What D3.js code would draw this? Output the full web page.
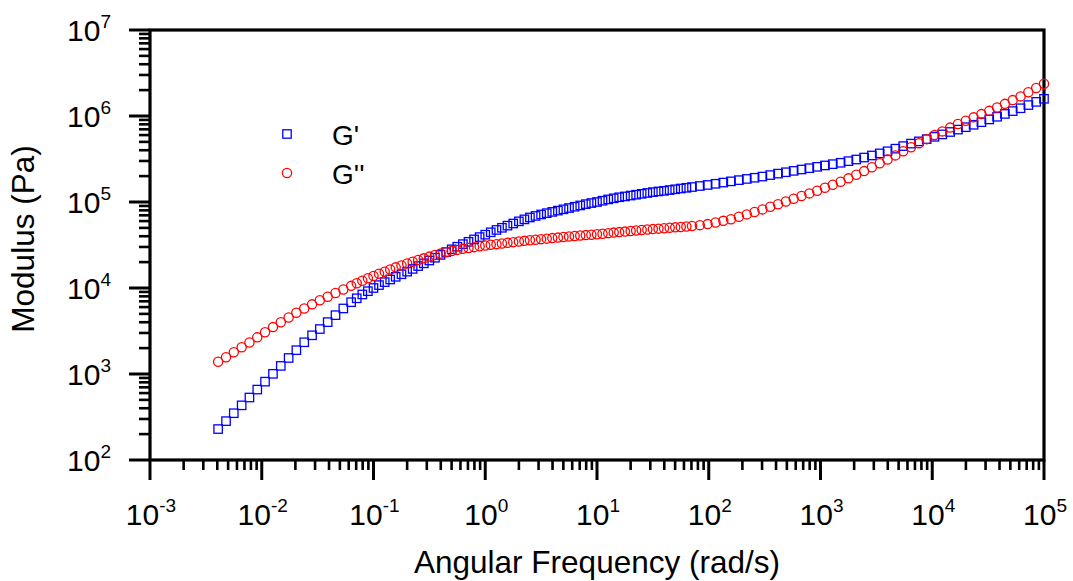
<!DOCTYPE html>
<html>
<head>
<meta charset="utf-8">
<script src="https://cdn.jsdelivr.net/npm/d3@7"></script>
<style>
  html, body { margin: 0; padding: 0; background: #fff; }
  svg { display: block; }
  text { font-family: "Liberation Sans", Arial, sans-serif; fill: #000; }
</style>
</head>
<body>
<svg id="chart" width="1073" height="581"></svg>
<script>
// ---------------- data ----------------
const frequency = [0.00407, 0.00479, 0.00562, 0.00661, 0.00776, 0.00912, 0.0107, 0.0126, 0.0148, 0.0174, 0.0204, 0.0240, 0.0282, 0.0331, 0.0389, 0.0457, 0.0537,
  0.0631, 0.0708, 0.0794, 0.0891, 0.100, 0.112, 0.126, 0.141, 0.158, 0.178, 0.200, 0.224, 0.251, 0.282, 0.316, 0.355, 0.398, 0.447, 0.501, 0.562,
  0.631, 0.708, 0.794, 0.891, 1.00, 1.12, 1.26, 1.41, 1.58, 1.78, 2.00, 2.24, 2.51, 2.82, 3.16, 3.55, 3.98, 4.47, 5.01, 5.62,
  6.31, 7.08, 7.94, 8.91, 10.0, 11.2, 12.6, 14.1, 15.8, 17.8, 20.0, 22.4, 25.1, 28.2, 31.6, 35.5, 39.8, 44.7, 50.1, 56.2, 63.1, 70.8,
  83.2, 97.7, 115, 135, 158, 186, 219, 257, 302, 355, 417, 490, 575, 676, 794, 933, 1096, 1288, 1514, 1778, 2089, 2455, 2884, 3388,
  3981, 4677, 5495, 6457, 7586, 8913, 10470, 12300, 14450, 16980, 19950, 23440, 27540, 32360, 38020, 44670, 52480, 61660, 72440, 85110, 100000];

const storageModulus = [229, 283, 350, 432, 533, 659, 815, 1005, 1242, 1535, 1892, 2339, 2818, 3334, 4009, 4831, 5781,
  6839, 7586, 8414, 9183, 10000, 10810, 11700, 12560, 13490, 14450, 15490, 16670, 17990, 19360, 20890, 22490, 24270, 26180, 28180, 30200,
  32360, 34440, 36730, 39080, 41690, 44460, 47320, 50120, 53090, 56230, 59570, 62810, 66070, 68870, 71610, 74130, 76740, 79430, 82220, 85110,
  88100, 91200, 94410, 97270, 100000, 103500, 107200, 110400, 113500, 116100, 118900, 121600, 124500, 127400, 130300, 132700, 134900, 137700, 140600, 143500, 146200, 149300,
  153500, 157800, 162900, 168300, 173800, 179500, 185400, 191400, 197700, 205600, 213800, 221800, 230100, 238800, 247200, 256400, 266100, 275400, 285800, 298500, 311900, 328900, 347500, 367300,
  389000, 416900, 446700, 477500, 507000, 538300, 572800, 610900, 651600, 695000, 741300, 790700, 847200, 912000, 979500, 1057000, 1140000, 1230000, 1340000, 1459000, 1585000];

const lossModulus = [1390, 1567, 1791, 2046, 2328, 2667, 3062, 3508, 3990, 4539, 5152, 5781, 6457, 7211, 7925, 8730, 9616,
  10590, 11350, 12160, 12970, 13800, 14620, 15490, 16410, 17380, 18320, 19280, 20180, 21130, 22130, 23170, 24150, 25120, 26000, 26920, 27730,
  28510, 29170, 29850, 30550, 31260, 31840, 32360, 32960, 33500, 34120, 34670, 35320, 35890, 36390, 36980, 37500, 38020, 38550, 39170, 39720,
  40270, 40740, 41210, 41690, 42170, 42760, 43450, 44060, 44670, 45290, 46030, 46670, 47320, 47860, 48420, 48980, 49550, 50120, 50700, 51290, 51880, 52600,
  53830, 55340, 57810, 60390, 63100, 67300, 71780, 76560, 82040, 87900, 94190, 101200, 108900, 117200, 125900, 134900, 146200, 158500, 171800, 188400, 207500, 228600, 253500, 281800,
  312600, 348300, 389000, 433500, 483100, 538300, 599800, 662200, 732800, 807200, 881000, 963900, 1052000, 1148000, 1256000, 1384000, 1531000, 1690000, 1892000, 2118000, 2371000];

const xTickExponents = ["-3", "-2", "-1", "0", "1", "2", "3", "4", "5"];
const yTickExponents = ["2", "3", "4", "5", "6", "7"];
const seriesNames = ["G'", "G''"];
const xTitle = "Angular Frequency (rad/s)";
const yTitle = "Modulus (Pa)";

// ---------------- layout ----------------
const svg = d3.select("#chart");
const L = 150, R = 1044, T = 30, B = 460;
const x = d3.scaleLog().domain([1e-3, 1e5]).range([L, R]);
const y = d3.scaleLog().domain([1e2, 1e7]).range([B, T]);

const isMajor = v => Math.abs(Math.log10(v) - Math.round(Math.log10(v))) < 1e-9;
const xMinor = x.ticks().filter(v => !isMajor(v));
const yMinor = y.ticks().filter(v => !isMajor(v));

// ticks
const g = svg.append("g");
g.selectAll(".xminor").data(xMinor).join("line")
  .attr("x1", d => x(d)).attr("x2", d => x(d)).attr("y1", B).attr("y2", B + 10)
  .attr("stroke", "#000").attr("stroke-width", 2.6);
g.selectAll(".xmajor").data(xTickExponents).join("line")
  .attr("x1", d => x(Math.pow(10, +d))).attr("x2", d => x(Math.pow(10, +d)))
  .attr("y1", B).attr("y2", B + 20).attr("stroke", "#000").attr("stroke-width", 3);
g.selectAll(".yminor").data(yMinor).join("line")
  .attr("y1", d => y(d)).attr("y2", d => y(d)).attr("x1", L).attr("x2", L - 11)
  .attr("stroke", "#000").attr("stroke-width", 2.6);
g.selectAll(".ymajor").data(yTickExponents).join("line")
  .attr("y1", d => y(Math.pow(10, +d))).attr("y2", d => y(Math.pow(10, +d)))
  .attr("x1", L).attr("x2", L - 21).attr("stroke", "#000").attr("stroke-width", 3);

// frame
svg.append("rect").attr("x", L).attr("y", T).attr("width", R - L).attr("height", B - T)
  .attr("fill", "none").attr("stroke", "#000").attr("stroke-width", 3.2);

// tick labels
const xl = svg.selectAll(".xl").data(xTickExponents).join("text")
  .attr("x", d => x(Math.pow(10, +d)) + 1).attr("y", 525)
  .attr("text-anchor", "middle").attr("font-size", 30);
xl.append("tspan").text("10");
xl.append("tspan").attr("font-size", 19).attr("dy", -13).text(d => d);

const yl = svg.selectAll(".yl").data(yTickExponents).join("text")
  .attr("x", 111).attr("y", d => y(Math.pow(10, +d)) + 11)
  .attr("text-anchor", "end").attr("font-size", 30);
yl.append("tspan").text("10");
yl.append("tspan").attr("font-size", 19).attr("dy", -13).text(d => d);

// titles
svg.append("text").attr("x", (L + R) / 2).attr("y", 573).attr("text-anchor", "middle")
  .attr("font-size", 31.5).text(xTitle);
svg.append("text").attr("transform", `translate(34,${(T + B) / 2 - 6}) rotate(-90)`)
  .attr("text-anchor", "middle").attr("font-size", 31.5).text(yTitle);

// data
const pts = frequency.map((f, i) => ({ f, gp: storageModulus[i], gpp: lossModulus[i] }));
const S = 8.4;
svg.append("g").selectAll("rect").data(pts).join("rect")
  .attr("x", d => x(d.f) - S / 2).attr("y", d => y(d.gp) - S / 2)
  .attr("width", S).attr("height", S)
  .attr("fill", "none").attr("stroke", "#0000ff").attr("stroke-width", 1.3);
svg.append("g").selectAll("circle").data(pts).join("circle")
  .attr("cx", d => x(d.f)).attr("cy", d => y(d.gpp)).attr("r", 4.6)
  .attr("fill", "none").attr("stroke", "#ff0000").attr("stroke-width", 1.3);

// legend
const lg = svg.append("g");
lg.append("rect").attr("x", 287 - S / 2).attr("y", 134 - S / 2).attr("width", S).attr("height", S)
  .attr("fill", "none").attr("stroke", "#0000ff").attr("stroke-width", 1.3);
lg.append("circle").attr("cx", 287).attr("cy", 173).attr("r", 4.6)
  .attr("fill", "none").attr("stroke", "#ff0000").attr("stroke-width", 1.3);
lg.append("text").attr("x", 332).attr("y", 145).attr("font-size", 28).text(seriesNames[0]);
lg.append("text").attr("x", 332).attr("y", 184).attr("font-size", 28).text(seriesNames[1]);
</script>
</body>
</html>
